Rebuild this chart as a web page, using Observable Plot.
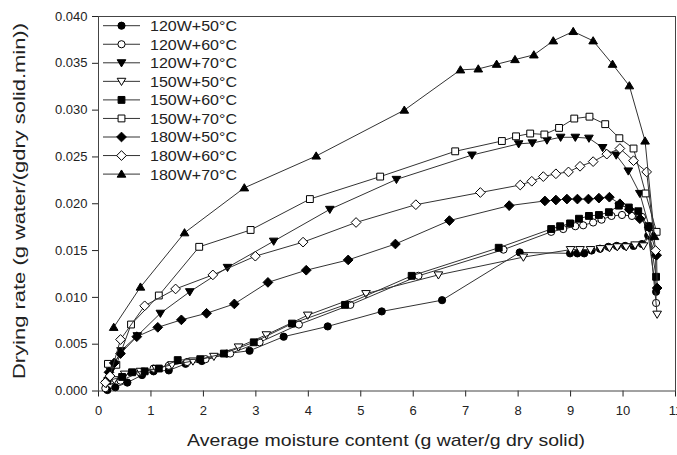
<!DOCTYPE html>
<html>
<head>
<meta charset="utf-8">
<script src="https://cdn.jsdelivr.net/npm/d3@7"></script>
<script src="https://cdn.jsdelivr.net/npm/@observablehq/plot@0.6"></script>
<style>
  html, body { margin: 0; padding: 0; background: #fff; }
  #chart { width: 677px; height: 455px; overflow: hidden; }
</style>
</head>
<body>
<div id="chart"></div>
<script>
// ---- data ----
const seriesNames = ["120W+50°C","120W+60°C","120W+70°C","150W+50°C","150W+60°C","150W+70°C","180W+50°C","180W+60°C","180W+70°C"];

const x_120W50 = [0.17,0.32,0.55,0.83,1.05,1.34,1.66,1.97,2.45,2.88,3.53,4.37,5.40,6.55,8.03,8.99,9.13,9.26,9.40,9.56,9.72,9.88,10.04,10.20,10.36,10.48,10.63];
const y_120W50 = [0.0001,0.0004,0.0009,0.0017,0.0021,0.0022,0.0029,0.0032,0.0040,0.0043,0.0058,0.0069,0.0085,0.0097,0.0148,0.0147,0.0147,0.0147,0.0150,0.0152,0.0154,0.0155,0.0155,0.0155,0.0157,0.0166,0.0106];

const x_120W60 = [0.13,0.23,0.42,0.79,1.05,1.34,1.69,2.04,2.51,3.07,3.82,4.80,6.10,7.72,8.63,8.86,9.09,9.24,9.43,9.59,9.78,9.98,10.17,10.36,10.62,10.63];
const y_120W60 = [0.0003,0.0011,0.0011,0.0020,0.0024,0.0027,0.0031,0.0034,0.0040,0.0052,0.0071,0.0092,0.0123,0.0151,0.0170,0.0173,0.0176,0.0177,0.0180,0.0183,0.0187,0.0188,0.0187,0.0186,0.0145,0.0094];

const x_120W70 = [0.23,0.43,0.74,1.18,1.74,2.46,3.34,4.41,5.68,7.12,8.01,8.27,8.55,8.81,9.09,9.35,9.61,9.87,10.10,10.32,10.55];
const y_120W70 = [0.0021,0.0043,0.0059,0.0083,0.0106,0.0132,0.0160,0.0194,0.0226,0.0252,0.0264,0.0265,0.0268,0.0271,0.0271,0.0270,0.0260,0.0252,0.0235,0.0211,0.0165];

const x_150W50 = [0.15,0.30,0.50,0.80,1.10,1.40,1.80,2.20,2.67,3.20,3.99,5.10,6.48,8.10,9.00,9.18,9.38,9.57,9.74,9.89,10.06,10.23,10.39,10.50,10.65];
const y_150W50 = [0.0008,0.0012,0.0018,0.0021,0.0024,0.0028,0.0032,0.0037,0.0047,0.0060,0.0081,0.0104,0.0124,0.0143,0.0151,0.0151,0.0151,0.0152,0.0153,0.0154,0.0154,0.0156,0.0155,0.0168,0.0082];

const x_150W60 = [0.17,0.45,0.64,0.88,1.15,1.51,1.94,2.39,2.96,3.69,4.70,5.97,7.63,8.63,8.80,8.99,9.16,9.35,9.54,9.73,9.92,10.11,10.29,10.48,10.63];
const y_150W60 = [0.0011,0.0015,0.0020,0.0021,0.0024,0.0033,0.0034,0.0040,0.0052,0.0072,0.0092,0.0123,0.0153,0.0173,0.0176,0.0179,0.0184,0.0187,0.0188,0.0191,0.0198,0.0196,0.0192,0.0176,0.0122];

const x_150W70 = [0.18,0.34,0.62,1.15,1.92,2.90,4.03,5.37,6.80,7.69,7.96,8.23,8.50,8.78,9.07,9.36,9.66,9.93,10.20,10.43,10.64];
const y_150W70 = [0.0029,0.0028,0.0071,0.0102,0.0154,0.0172,0.0205,0.0229,0.0256,0.0267,0.0272,0.0275,0.0274,0.0281,0.0291,0.0293,0.0285,0.0270,0.0259,0.0211,0.0170];

const x_180W50 = [0.20,0.30,0.42,0.73,1.13,1.58,2.06,2.59,3.23,3.96,4.76,5.66,6.69,7.83,8.51,8.72,8.93,9.13,9.34,9.54,9.74,9.94,10.12,10.32,10.50,10.64,10.65];
const y_180W50 = [0.0020,0.0030,0.0040,0.0058,0.0068,0.0076,0.0083,0.0093,0.0116,0.0129,0.0140,0.0157,0.0182,0.0198,0.0203,0.0204,0.0205,0.0205,0.0205,0.0206,0.0207,0.0200,0.0194,0.0184,0.0175,0.0145,0.0110];

const x_180W60 = [0.13,0.22,0.42,0.88,1.47,2.18,2.99,3.90,4.91,6.05,7.28,8.04,8.26,8.48,8.72,8.96,9.18,9.43,9.69,9.94,10.20,10.45,10.62];
const y_180W60 = [0.0009,0.0016,0.0055,0.0091,0.0109,0.0124,0.0144,0.0159,0.0180,0.0199,0.0212,0.0220,0.0224,0.0229,0.0232,0.0234,0.0240,0.0245,0.0253,0.0259,0.0246,0.0234,0.0150];

const x_180W70 = [0.29,0.80,1.64,2.78,4.15,5.83,6.90,7.24,7.59,7.94,8.30,8.67,9.05,9.43,9.80,10.12,10.42,10.60];
const y_180W70 = [0.0068,0.0111,0.0169,0.0217,0.0251,0.0300,0.0343,0.0344,0.0349,0.0354,0.0359,0.0374,0.0384,0.0374,0.0349,0.0326,0.0267,0.0165];

const xTicks = [0,1,2,3,4,5,6,7,8,9,10,11];
const yTicks = [0,0.005,0.010,0.015,0.020,0.025,0.030,0.035,0.040];
const xTitle = "Average moisture content (g water/g dry solid)";
const yTitle = "Drying rate (g water/(gdry solid.min))";

// ---- marker shapes ----
const symCircle = { draw(c, s) { const r = Math.sqrt(s / Math.PI); c.moveTo(r, 0); c.arc(0, 0, r, 0, 2 * Math.PI); } };
const symSquare = { draw(c, s) { const r = Math.sqrt(s / Math.PI) * 0.95; c.rect(-r, -r, 2 * r, 2 * r); } };
const symTriUp = { draw(c, s) { const r = Math.sqrt(s / Math.PI); c.moveTo(0, -r * 1.15); c.lineTo(r * 1.2, r * 0.85); c.lineTo(-r * 1.2, r * 0.85); c.closePath(); } };
const symTriDown = { draw(c, s) { const r = Math.sqrt(s / Math.PI); c.moveTo(0, r * 1.15); c.lineTo(r * 1.2, -r * 0.85); c.lineTo(-r * 1.2, -r * 0.85); c.closePath(); } };
const symDiamond = { draw(c, s) { const r = Math.sqrt(s / Math.PI) * 1.35; c.moveTo(0, -r); c.lineTo(r, 0); c.lineTo(0, r); c.lineTo(-r, 0); c.closePath(); } };

const xsList = [x_120W50, x_120W60, x_120W70, x_150W50, x_150W60, x_150W70, x_180W50, x_180W60, x_180W70];
const ysList = [y_120W50, y_120W60, y_120W70, y_150W50, y_150W60, y_150W70, y_180W50, y_180W60, y_180W70];
const symbols = [symCircle, symCircle, symTriDown, symTriDown, symSquare, symSquare, symDiamond, symDiamond, symTriUp];
const fills = ["black", "white", "black", "white", "black", "white", "black", "white", "black"];

const series = seriesNames.map((name, i) => ({
  name, symbol: symbols[i], fill: fills[i],
  data: xsList[i].map((x, j) => ({ x, y: ysList[i][j] }))
}));

const lineColor = "#333";
const R = 3.6;

const marks = [
  Plot.axisX({ ticks: xTicks, tickSize: 6, tickPadding: 9, label: null, fontSize: 13 }),
  Plot.axisY({ ticks: yTicks, tickSize: 6, tickPadding: 5, tickFormat: d3.format(".3f"), label: null, fontSize: 13 }),
  Plot.frame({ stroke: "#444", strokeWidth: 1 })
];
for (const s of series) {
  marks.push(Plot.line(s.data, { x: "x", y: "y", stroke: lineColor, strokeWidth: 1 }));
  marks.push(Plot.dot(s.data, { x: "x", y: "y", r: R, symbol: s.symbol, fill: s.fill, stroke: "black", strokeWidth: 1 }));
}

const chart = Plot.plot({
  width: 677, height: 455,
  marginLeft: 98, marginRight: 2, marginTop: 16, marginBottom: 64.5,
  x: { domain: [0, 11], label: null },
  y: { domain: [0, 0.04], label: null },
  style: { fontFamily: "'Liberation Sans', Arial, sans-serif", fontSize: "13px", color: "#222", background: "white" },
  marks
});
document.getElementById("chart").appendChild(chart);

// ---- axis titles and legend ----
const svg = d3.select(chart);
svg.append("text")
  .attr("x", 386).attr("y", 446)
  .attr("text-anchor", "middle")
  .attr("font-size", 17).attr("fill", "#222")
  .attr("textLength", 398).attr("lengthAdjust", "spacingAndGlyphs")
  .text(xTitle);
svg.append("text")
  .attr("transform", "translate(25,201) rotate(-90)")
  .attr("text-anchor", "middle")
  .attr("font-size", 16.5).attr("fill", "#222")
  .attr("textLength", 356).attr("lengthAdjust", "spacingAndGlyphs")
  .text(yTitle);

const lg = svg.append("g").attr("font-size", 15).attr("fill", "#222").attr("text-anchor", "start");
series.forEach((s, i) => {
  const yy = 25.7 + i * 18.55;
  const g = lg.append("g").attr("transform", `translate(0,${yy})`);
  g.append("line").attr("x1", 103).attr("x2", 140).attr("y1", 0).attr("y2", 0).attr("stroke", lineColor).attr("stroke-width", 1);
  g.append("path").attr("transform", "translate(121.5,0)")
    .attr("d", d3.symbol(s.symbol, R * R * Math.PI)())
    .attr("fill", s.fill).attr("stroke", "black").attr("stroke-width", 1);
  g.append("text").attr("x", 150).attr("y", 0).attr("dy", "0.36em")
    .attr("text-anchor", "start")
    .attr("textLength", 87).attr("lengthAdjust", "spacingAndGlyphs")
    .text(s.name);
});
</script>
</body>
</html>
